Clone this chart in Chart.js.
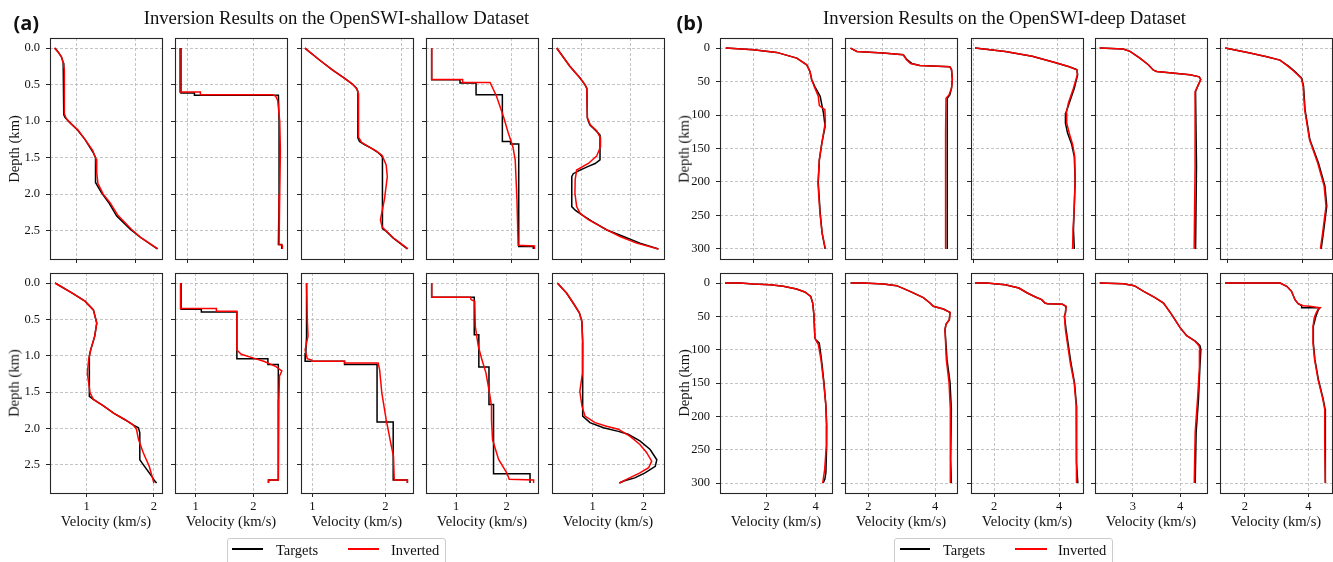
<!DOCTYPE html>
<html><head><meta charset="utf-8">
<script src="https://cdn.jsdelivr.net/npm/chart.js@4.4.0/dist/chart.umd.min.js"></script>
<style>
html,body{margin:0;padding:0;background:#fff;}
body{width:1333px;height:562px;position:relative;overflow:hidden;font-family:'Liberation Serif','Times New Roman',serif;color:#111;}
.t{position:absolute;white-space:nowrap;line-height:1em;}
canvas{position:absolute;}
.panel{font-family:'Open Sans',sans-serif;font-weight:700;font-size:20px;}
.title{font-size:18.7px;transform:translateX(-50%);}
.ylab{font-size:14.6px;transform:translate(-50%,-50%) rotate(-90deg);}
.xlab{font-size:14.6px;transform:translate(-50%,-50%);}
.legend{position:absolute;border:1px solid #cccccc;border-radius:3px;background:#fff;height:34px;}
.lline{position:absolute;height:2px;}
.ltxt{font-size:14.5px;}
</style></head><body>
<script>
// ---------- DATA ----------
const shallowYTicks = [0, 0.5, 1.0, 1.5, 2.0, 2.5];
const shallowYLabels = ['0.0', '0.5', '1.0', '1.5', '2.0', '2.5'];
const shallowYLim = [-0.1375, 2.8875];
const deepYTicks = [0, 50, 100, 150, 200, 250, 300];
const deepYLabels = ['0', '50', '100', '150', '200', '250', '300'];
const deepYLim = [-15, 315];

const aTopXTicks = [[1, 2], [1, 2], [1, 2], [1, 2], [1, 2]];
const aBotXTicks = [[1, 2], [1, 2], [1, 2], [1, 2], [1, 2]];
const bTopXTicks = [[2, 4], [3, 4], [2, 4], [3, 4], [2, 4]];
const bBotXTicks = [[2, 4], [2, 4], [2, 4], [3, 4], [2, 4]];

const aTopXLim = [[0.546, 2.45], [0.816, 2.51], [0.242, 2.199], [0.533, 2.45], [0.384, 2.684]];
const aBotXLim = [[0.455, 2.12], [0.645, 2.58], [0.844, 2.377], [0.408, 2.617], [0.207, 2.39]];
const bTopXLim = [[0.79, 4.86], [2.11, 4.76], [1.945, 4.607], [2.29, 4.685], [1.79, 4.78]];
const bBotXLim = [[0.094, 4.67], [1.30, 4.66], [1.29, 4.73], [2.20, 4.57], [1.21, 4.75]];

// profiles: [velocity (km/s), depth (km)]
const aTop1Targets = [[0.63,0],[0.68,0.05],[0.74,0.12],[0.77,0.2],[0.78,0.25],[0.78,0.91],[0.80,0.95],[0.86,1.0],[1.0,1.11],[1.14,1.25],[1.28,1.43],[1.32,1.5],[1.32,1.84],[1.42,1.98],[1.54,2.11],[1.68,2.30],[1.91,2.48],[2.08,2.59],[2.37,2.75]];
const aTop1Inverted = [[0.62,0],[0.68,0.05],[0.74,0.12],[0.77,0.2],[0.79,0.3],[0.79,0.9],[0.82,0.96],[0.88,1.02],[1.02,1.12],[1.15,1.26],[1.27,1.40],[1.33,1.52],[1.34,1.70],[1.36,1.85],[1.45,2.0],[1.57,2.12],[1.70,2.29],[1.93,2.48],[2.10,2.60],[2.38,2.75]];
const aTop2Targets = [[0.906,0],[0.906,0.615],[1.11,0.615],[1.11,0.645],[2.38,0.645],[2.39,1.0],[2.39,1.5],[2.39,2.0],[2.38,2.69],[2.43,2.69],[2.43,2.75]];
const aTop2Inverted = [[0.89,0],[0.89,0.60],[1.20,0.60],[1.20,0.64],[2.30,0.64],[2.34,0.66],[2.37,0.72],[2.40,1.0],[2.41,1.4],[2.40,2.0],[2.39,2.69],[2.44,2.70],[2.44,2.75]];
const aTop3Targets = [[0.31,0],[0.56,0.16],[0.79,0.30],[1.03,0.43],[1.15,0.50],[1.21,0.55],[1.235,0.59],[1.235,1.23],[1.265,1.28],[1.35,1.32],[1.47,1.37],[1.57,1.42],[1.63,1.46],[1.665,1.49],[1.665,2.47],[1.735,2.51],[1.85,2.60],[1.97,2.67],[2.10,2.75]];
const aTop3Inverted = [[0.31,0],[0.56,0.16],[0.79,0.30],[1.03,0.43],[1.15,0.50],[1.22,0.56],[1.24,0.62],[1.245,1.0],[1.25,1.22],[1.30,1.29],[1.42,1.35],[1.56,1.41],[1.66,1.47],[1.73,1.60],[1.75,1.76],[1.70,2.07],[1.63,2.35],[1.66,2.45],[1.74,2.51],[1.86,2.60],[1.98,2.67],[2.11,2.75]];
const aTop4Targets = [[0.63,0],[0.63,0.434],[1.115,0.434],[1.115,0.479],[1.39,0.479],[1.39,0.639],[1.84,0.639],[1.84,1.28],[1.98,1.28],[1.98,1.315],[2.12,1.315],[2.12,2.717],[2.37,2.717],[2.37,2.75]];
const aTop4Inverted = [[0.63,0],[0.63,0.43],[1.16,0.43],[1.16,0.47],[1.63,0.47],[1.74,0.66],[1.86,0.94],[1.94,1.16],[2.02,1.35],[2.06,1.53],[2.09,2.08],[2.11,2.70],[2.39,2.71],[2.39,2.75]];
const aTop5Targets = [[0.48,0],[0.75,0.25],[0.96,0.41],[1.06,0.50],[1.10,0.55],[1.11,0.96],[1.16,1.05],[1.27,1.12],[1.37,1.19],[1.37,1.53],[1.27,1.58],[1.13,1.62],[0.96,1.67],[0.82,1.72],[0.79,1.76],[0.79,2.17],[0.86,2.22],[0.99,2.28],[1.20,2.37],[1.51,2.49],[1.85,2.58],[2.19,2.67],[2.57,2.75]];
const aTop5Inverted = [[0.48,0],[0.75,0.25],[0.96,0.41],[1.06,0.50],[1.10,0.56],[1.11,0.95],[1.17,1.05],[1.30,1.13],[1.37,1.22],[1.38,1.35],[1.30,1.48],[1.13,1.58],[0.89,1.67],[0.86,1.80],[0.855,1.99],[0.89,2.17],[0.96,2.26],[1.13,2.35],[1.51,2.49],[1.78,2.58],[2.12,2.67],[2.57,2.75]];

const aBot1Targets = [[0.53,0],[0.78,0.137],[0.975,0.25],[1.10,0.37],[1.15,0.55],[1.12,0.73],[1.06,0.92],[1.04,1.0],[1.04,1.56],[1.10,1.6],[1.25,1.69],[1.40,1.79],[1.57,1.88],[1.69,1.95],[1.77,1.99],[1.79,2.06],[1.79,2.43],[1.82,2.47],[1.89,2.56],[1.97,2.66],[2.01,2.72],[2.04,2.75]];
const aBot1Inverted = [[0.53,0],[0.78,0.137],[0.975,0.25],[1.10,0.37],[1.15,0.55],[1.12,0.73],[1.06,0.92],[1.03,1.05],[1.01,1.24],[1.05,1.51],[1.10,1.6],[1.25,1.69],[1.40,1.79],[1.57,1.88],[1.69,1.95],[1.74,2.01],[1.77,2.15],[1.84,2.33],[1.93,2.52],[2.00,2.75]];
const aBot2Targets = [[0.75,0],[0.75,0.36],[1.10,0.36],[1.10,0.40],[1.714,0.40],[1.714,1.04],[2.25,1.04],[2.25,1.12],[2.43,1.12],[2.43,2.71],[2.26,2.71],[2.26,2.75]];
const aBot2Inverted = [[0.74,0],[0.74,0.35],[1.36,0.35],[1.36,0.39],[1.714,0.39],[1.714,0.92],[1.79,0.98],[1.99,1.03],[2.19,1.08],[2.39,1.15],[2.49,1.21],[2.45,1.28],[2.44,1.6],[2.43,2.71],[2.26,2.71],[2.26,2.75]];
const aBot3Targets = [[0.92,0],[0.92,0.73],[0.91,0.96],[0.90,1.03],[0.90,1.076],[1.44,1.076],[1.44,1.12],[1.885,1.12],[1.885,1.91],[2.106,1.91],[2.106,2.71],[2.30,2.71],[2.30,2.75]];
const aBot3Inverted = [[0.92,0],[0.93,0.5],[0.94,0.73],[0.90,0.92],[0.93,1.04],[0.99,1.06],[0.99,1.076],[1.44,1.076],[1.44,1.10],[1.90,1.10],[1.92,1.19],[1.95,1.51],[2.01,1.88],[2.08,2.24],[2.11,2.38],[2.12,2.71],[2.30,2.71],[2.30,2.75]];
const aBot4Targets = [[0.52,0],[0.52,0.197],[1.36,0.197],[1.36,0.71],[1.45,0.71],[1.45,1.154],[1.65,1.154],[1.65,1.671],[1.74,1.671],[1.74,2.624],[2.46,2.624],[2.46,2.75]];
const aBot4Inverted = [[0.52,0],[0.52,0.197],[1.28,0.197],[1.30,0.23],[1.37,0.25],[1.38,0.595],[1.44,0.87],[1.51,1.053],[1.59,1.236],[1.66,1.511],[1.70,1.694],[1.70,1.877],[1.72,2.152],[1.84,2.427],[2.0,2.61],[2.05,2.70],[2.53,2.71],[2.53,2.75]];
const aBot5Targets = [[0.31,0],[0.49,0.137],[0.62,0.275],[0.74,0.41],[0.79,0.53],[0.805,0.82],[0.805,1.24],[0.805,1.83],[0.947,1.92],[1.21,1.99],[1.50,2.04],[1.69,2.08],[1.92,2.17],[2.12,2.29],[2.25,2.43],[2.22,2.52],[2.02,2.61],[1.82,2.68],[1.62,2.72],[1.52,2.75]];
const aBot5Inverted = [[0.31,0],[0.49,0.137],[0.62,0.275],[0.74,0.41],[0.79,0.53],[0.805,0.82],[0.80,1.24],[0.75,1.49],[0.79,1.69],[0.85,1.83],[1.045,1.92],[1.27,1.97],[1.50,2.01],[1.73,2.11],[1.92,2.22],[2.05,2.33],[2.15,2.45],[2.09,2.54],[1.92,2.61],[1.66,2.70],[1.52,2.75]];

const bTop1Targets = [[1.0,0],[2.0,2.5],[2.85,6.5],[3.58,15],[3.94,25],[4.06,35],[4.12,47],[4.24,58],[4.43,72],[4.55,97],[4.61,117],[4.49,142],[4.40,167],[4.36,201],[4.43,246],[4.50,276],[4.61,300]];
const bTop1Inverted = [[1.0,0],[2.0,2.5],[2.85,6.5],[3.58,15],[3.94,25],[4.06,35],[4.12,47],[4.22,58],[4.36,72],[4.40,86],[4.60,92],[4.62,110],[4.50,140],[4.40,167],[4.35,201],[4.42,246],[4.50,276],[4.62,300]];
const bTop2Targets = [[2.24,0],[2.39,5],[3.01,7.5],[3.49,10],[3.57,17],[3.69,23],[3.88,26],[4.59,28],[4.63,32],[4.65,47],[4.63,60],[4.59,70],[4.53,75],[4.53,127],[4.53,300]];
const bTop2Inverted = [[2.24,0],[2.39,5],[3.01,7.5],[3.49,10],[3.56,17],[3.66,23],[3.88,26],[4.59,28],[4.63,32],[4.65,47],[4.63,60],[4.57,70],[4.50,75],[4.49,127],[4.49,300]];
const bTop3Targets = [[2.04,0],[2.76,5],[3.40,12.4],[3.96,22],[4.28,28],[4.46,32],[4.48,40],[4.40,60],[4.28,82],[4.20,97],[4.19,112],[4.24,127],[4.34,144],[4.40,162],[4.42,197],[4.40,236],[4.38,271],[4.40,300]];
const bTop3Inverted = [[2.04,0],[2.76,5],[3.40,12.4],[3.96,22],[4.28,28],[4.47,33],[4.47,40],[4.38,60],[4.26,82],[4.21,97],[4.22,112],[4.28,127],[4.36,144],[4.41,162],[4.42,197],[4.40,236],[4.37,271],[4.36,300]];
const bTop4Targets = [[2.39,0],[2.89,1.5],[3.04,5],[3.25,15],[3.43,25],[3.54,33],[3.61,35],[4.32,40],[4.52,43],[4.55,47],[4.48,58],[4.44,65],[4.46,177],[4.44,300]];
const bTop4Inverted = [[2.39,0],[2.89,1.5],[3.04,5],[3.25,15],[3.43,25],[3.54,33],[3.61,35],[4.32,40],[4.52,43],[4.55,47],[4.48,58],[4.43,65],[4.43,177],[4.41,300]];
const bTop5Targets = [[1.93,0],[2.59,7.5],[3.04,13],[3.39,18],[3.62,27],[3.79,35],[3.97,45],[4.02,57],[4.06,92],[4.19,137],[4.42,172],[4.59,206],[4.64,236],[4.55,276],[4.49,300]];
const bTop5Inverted = [[1.93,0],[2.59,7.5],[3.04,13],[3.39,18],[3.60,27],[3.77,35],[3.96,45],[4.01,57],[4.05,92],[4.18,137],[4.40,172],[4.57,206],[4.62,236],[4.53,276],[4.47,300]];

const bBot1Targets = [[0.30,0],[0.91,0],[1.46,1.5],[2.14,2.5],[2.68,5],[3.22,9],[3.56,13.5],[3.80,20],[3.88,30],[3.93,47],[3.97,82],[4.0,85],[4.15,90],[4.24,115],[4.34,149],[4.42,184],[4.45,214],[4.45,244],[4.42,284],[4.38,294],[4.31,300]];
const bBot1Inverted = [[0.30,0],[0.91,0],[1.46,1.5],[2.14,2.5],[2.68,5],[3.22,9],[3.56,13.5],[3.80,20],[3.88,30],[3.93,47],[3.97,82],[4.04,88],[4.11,92],[4.22,115],[4.33,149],[4.42,184],[4.45,214],[4.44,244],[4.37,280],[4.29,300]];
const bBot2Targets = [[1.47,0],[1.85,0],[2.45,1.5],[2.85,4],[3.25,12.5],[3.65,22],[3.85,30],[3.95,35],[4.25,39],[4.45,44],[4.43,55],[4.33,62],[4.30,70],[4.36,115],[4.45,149],[4.49,189],[4.47,264],[4.49,300]];
const bBot2Inverted = [[1.47,0],[1.85,0],[2.45,1.5],[2.85,4],[3.25,12.5],[3.65,22],[3.85,30],[3.95,35],[4.25,39],[4.45,44],[4.43,55],[4.33,62],[4.30,70],[4.34,115],[4.42,149],[4.46,189],[4.45,264],[4.47,300]];
const bBot3Targets = [[1.41,0],[1.77,0],[2.34,2.5],[2.76,7.5],[3.02,15],[3.27,21],[3.46,25],[3.56,30],[3.64,31],[4.10,32],[4.21,35],[4.19,45],[4.16,50],[4.21,70],[4.36,120],[4.47,150],[4.53,184],[4.53,269],[4.57,300]];
const bBot3Inverted = [[1.41,0],[1.77,0],[2.34,2.5],[2.76,7.5],[3.02,15],[3.27,21],[3.46,25],[3.56,30],[3.64,31],[4.10,32],[4.21,35],[4.19,45],[4.16,50],[4.19,70],[4.34,120],[4.46,150],[4.52,184],[4.52,269],[4.54,300]];
const bBot4Targets = [[2.30,0],[2.80,1],[3.03,4],[3.23,12.5],[3.47,22],[3.65,30],[3.82,47],[4.0,67],[4.14,79],[4.32,87],[4.42,94],[4.44,100],[4.42,125],[4.39,174],[4.34,224],[4.32,300]];
const bBot4Inverted = [[2.30,0],[2.80,1],[3.03,4],[3.23,12.5],[3.47,22],[3.65,30],[3.82,47],[4.0,67],[4.14,79],[4.31,87],[4.40,94],[4.42,100],[4.41,125],[4.37,174],[4.32,224],[4.30,300]];
const bBot5Targets = [[1.37,0],[3.11,0],[3.32,5],[3.47,12.5],[3.58,25],[3.68,31],[3.79,34],[3.79,37],[4.37,37],[4.32,40],[4.28,45],[4.24,50],[4.16,65],[4.16,90],[4.21,115],[4.32,145],[4.47,174],[4.53,189],[4.53,239],[4.55,300]];
const bBot5Inverted = [[1.37,0],[3.11,0],[3.32,5],[3.47,12.5],[3.58,25],[3.68,31],[3.84,34],[4.05,35],[4.37,37],[4.30,40],[4.24,46],[4.19,52],[4.15,65],[4.15,90],[4.20,115],[4.31,145],[4.46,174],[4.52,189],[4.52,239],[4.54,300]];

// ---------- LAYOUT ----------
const FONT = "'Liberation Serif','Times New Roman',serif";
Chart.defaults.font.family = FONT;
const colsA = [50, 175, 301, 426, 552];
const colsB = [720, 845, 971, 1095, 1220];
const rowsGeom = [{top: 38, h: 221}, {top: 273, h: 220}];
const PW = 112, PL = 48, PT = 24, PR = 5, PB = 30;

const framePlugin = {
  id: 'frame',
  afterDraw(chart) {
    const {ctx, chartArea: a} = chart;
    ctx.save();
    ctx.strokeStyle = '#262626';
    ctx.lineWidth = 1.1;
    ctx.strokeRect(a.left + 0.5, a.top + 0.5, a.width, a.height);
    ctx.restore();
  }
};

function addText(cls, txt, left, top) {
  const d = document.createElement('div');
  d.className = 't ' + cls;
  d.textContent = txt;
  d.style.left = left + 'px';
  d.style.top = top + 'px';
  document.body.appendChild(d);
  return d;
}

function makeChart(left, top, h, targets, inverted, xLim, xTicks, yLim, yTicks, yLabels, showX, showY) {
  const cv = document.createElement('canvas');
  cv.width = PW + PL + PR; cv.height = h + PT + PB;
  cv.style.left = (left - PL) + 'px'; cv.style.top = (top - PT) + 'px';
  cv.style.width = cv.width + 'px'; cv.style.height = cv.height + 'px';
  document.body.appendChild(cv);
  const tickFont = {family: FONT, size: 12.5};
  new Chart(cv.getContext('2d'), {
    type: 'line',
    data: {datasets: [
      {label: 'Targets', data: targets.map(p => ({x: p[0], y: p[1]})), borderColor: '#000000', borderWidth: 1.5, pointRadius: 0, tension: 0, fill: false, order: 2},
      {label: 'Inverted', data: inverted.map(p => ({x: p[0], y: p[1]})), borderColor: '#ff0000', borderWidth: 1.5, pointRadius: 0, tension: 0, fill: false, order: 1}
    ]},
    options: {
      responsive: false, animation: false, events: [], devicePixelRatio: 1,
      layout: {padding: {left: 0, top: PT, right: PR, bottom: 0}, autoPadding: false},
      plugins: {legend: {display: false}, tooltip: {enabled: false}, title: {display: false}},
      scales: {
        x: {
          type: 'linear', position: 'bottom', min: xLim[0], max: xLim[1],
          afterBuildTicks: s => { s.ticks = xTicks.map(v => ({value: v})); },
          afterFit: s => { s.height = PB; },
          ticks: {display: showX, autoSkip: false, maxRotation: 0, padding: 2, color: '#111', font: tickFont, callback: v => String(v)},
          grid: {color: '#b5b5b5', lineWidth: 0.8, drawTicks: true, tickLength: 4, tickColor: '#262626', tickWidth: 1},
          border: {display: false, dash: [3, 2]}
        },
        y: {
          type: 'linear', position: 'left', reverse: true, min: yLim[0], max: yLim[1],
          afterBuildTicks: s => { s.ticks = yTicks.map(v => ({value: v})); },
          afterFit: s => { s.width = PL; },
          ticks: {display: showY, autoSkip: false, padding: 6, color: '#111', font: tickFont, callback: (v, i) => yLabels[i]},
          grid: {color: '#b5b5b5', lineWidth: 0.8, drawTicks: true, tickLength: 4, tickColor: '#262626', tickWidth: 1},
          border: {display: false, dash: [3, 2]}
        }
      }
    },
    plugins: [framePlugin]
  });
}

const panels = [
  {cols: colsA, row: 0, lim: aTopXLim, ticks: aTopXTicks, yLim: shallowYLim, yTicks: shallowYTicks, yLabels: shallowYLabels,
   series: [[aTop1Targets, aTop1Inverted], [aTop2Targets, aTop2Inverted], [aTop3Targets, aTop3Inverted], [aTop4Targets, aTop4Inverted], [aTop5Targets, aTop5Inverted]]},
  {cols: colsA, row: 1, lim: aBotXLim, ticks: aBotXTicks, yLim: shallowYLim, yTicks: shallowYTicks, yLabels: shallowYLabels,
   series: [[aBot1Targets, aBot1Inverted], [aBot2Targets, aBot2Inverted], [aBot3Targets, aBot3Inverted], [aBot4Targets, aBot4Inverted], [aBot5Targets, aBot5Inverted]]},
  {cols: colsB, row: 0, lim: bTopXLim, ticks: bTopXTicks, yLim: deepYLim, yTicks: deepYTicks, yLabels: deepYLabels,
   series: [[bTop1Targets, bTop1Inverted], [bTop2Targets, bTop2Inverted], [bTop3Targets, bTop3Inverted], [bTop4Targets, bTop4Inverted], [bTop5Targets, bTop5Inverted]]},
  {cols: colsB, row: 1, lim: bBotXLim, ticks: bBotXTicks, yLim: deepYLim, yTicks: deepYTicks, yLabels: deepYLabels,
   series: [[bBot1Targets, bBot1Inverted], [bBot2Targets, bBot2Inverted], [bBot3Targets, bBot3Inverted], [bBot4Targets, bBot4Inverted], [bBot5Targets, bBot5Inverted]]}
];

panels.forEach(p => {
  const g = rowsGeom[p.row];
  p.series.forEach((s, i) => {
    makeChart(p.cols[i], g.top, g.h, s[0], s[1], p.lim[i], p.ticks[i], p.yLim, p.yTicks, p.yLabels, p.row === 1, i === 0);
    if (p.row === 1) addText('xlab', 'Velocity (km/s)', p.cols[i] + PW / 2, 521);
  });
  addText('ylab', 'Depth (km)', p.cols[0] - 36.5, g.top + g.h / 2);
});

// titles
addText('panel', '(a)', 13.5, 12.5);
addText('panel', '(b)', 676.5, 12.5);
addText('title', 'Inversion Results on the OpenSWI-shallow Dataset', 336.5, 9.3);
addText('title', 'Inversion Results on the OpenSWI-deep Dataset', 1004.5, 9.3);

// legends
function legend(boxL, boxR, blackL, blackR, tL, redL, redR, iL) {
  const b = document.createElement('div');
  b.className = 'legend';
  b.style.left = boxL + 'px'; b.style.top = '538px'; b.style.width = (boxR - boxL - 2) + 'px';
  document.body.appendChild(b);
  const l1 = document.createElement('div'); l1.className = 'lline';
  l1.style.left = blackL + 'px'; l1.style.width = (blackR - blackL) + 'px'; l1.style.top = '548px'; l1.style.background = '#000000';
  document.body.appendChild(l1);
  const l2 = document.createElement('div'); l2.className = 'lline';
  l2.style.left = redL + 'px'; l2.style.width = (redR - redL) + 'px'; l2.style.top = '548px'; l2.style.background = '#ff0000';
  document.body.appendChild(l2);
  addText('ltxt', 'Targets', tL, 543);
  addText('ltxt', 'Inverted', iL, 543);
}
legend(227, 446, 232, 263, 276, 348, 379, 391);
legend(894, 1113, 900, 930, 943, 1015, 1047, 1058);
</script>
</body></html>
